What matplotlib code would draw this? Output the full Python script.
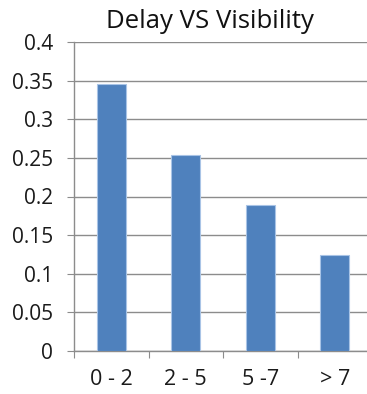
import matplotlib
matplotlib.use("Agg")
import matplotlib.pyplot as plt
import numpy as np

categories = ["0 - 2", "2 - 5", "5 -7", "> 7"]
values = [0.345, 0.254, 0.189, 0.124]
yticks = [0, 0.05, 0.1, 0.15, 0.2, 0.25, 0.3, 0.35, 0.4]
ytick_labels = ["0", "0.05", "0.1", "0.15", "0.2", "0.25", "0.3", "0.35", "0.4"]

plt.rcParams['font.family'] = ['Open Sans', 'DejaVu Sans']

fig = plt.figure(figsize=(3.67, 3.94), dpi=100)
ax = fig.add_axes([74/367, 1-351/394, 298/367, 309/394])

x = np.arange(len(categories))
ax.bar(x, values, width=0.39, color="#4F81BD", edgecolor="#A9C4E6", linewidth=0.8, zorder=3)

ax.set_xlim(-0.5, len(categories) - 0.5)
ax.set_ylim(0, 0.4)
ax.set_yticks(yticks)
ax.set_yticklabels(ytick_labels, fontsize=15, color="#1a1a1a")
ax.yaxis.grid(True, color="#8C8C8C", linewidth=1.0, zorder=0)
ax.tick_params(axis='y', length=5, color="#8C8C8C", pad=10)

ax.set_xticks(np.arange(len(categories) + 1) - 0.5)
ax.set_xticklabels([])
ax.tick_params(axis='x', which='major', length=5, color="#8C8C8C")
ax.set_xticks(x, minor=True)
ax.set_xticklabels(categories, minor=True, fontsize=15.5, color="#1a1a1a")
ax.tick_params(axis='x', which='minor', length=0, pad=13)

for s in ["top", "right"]:
    ax.spines[s].set_visible(False)
for s in ["left", "bottom"]:
    ax.spines[s].set_color("#8C8C8C")
    ax.spines[s].set_linewidth(1.0)

fig.text(210/367, 1-22/394, "Delay VS Visibility", ha="center", va="center", fontsize=18.5, color="#111111")

fig.savefig("out.png", dpi=100)
